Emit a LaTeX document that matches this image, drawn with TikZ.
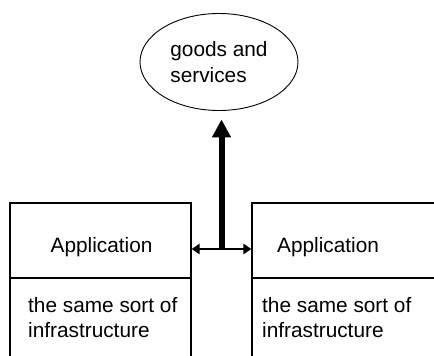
\documentclass[tikz,border=0pt]{standalone}
\usepackage{fontspec}
\setmainfont{Liberation Sans}
\usetikzlibrary{arrows.meta,shapes.geometric,calc}
\begin{document}
\begin{tikzpicture}[x=1pt,y=-1pt,
  box/.style={draw,line width=1.1pt,rectangle,inner sep=0pt,minimum width=188pt},
  txt/.style={font=\fontsize{20.8}{25.5}\selectfont,anchor=base west,inner sep=0pt},
  cloud/.style={draw,ellipse,line width=0.9pt,inner sep=0pt,align=left,
    font=\fontsize{20.8}{25.5}\selectfont},
  link/.style={line width=2pt,{Triangle[length=8pt,width=10pt]}-{Triangle[length=8pt,width=10pt]}},
  output/.style={line width=6pt,-{Triangle[length=18pt,width=18pt]}}]
  \useasboundingbox (0,0) rectangle (434,356);

  % left application stack
  \node[box,minimum width=181pt,minimum height=75pt] (appL) at (100.5,240.5) {};
  \node[box,minimum width=181pt,minimum height=92pt] (infL) at (100.5,324) {};
  % right application stack (runs past the right edge)
  \node[box,minimum height=75pt] (appR) at (346,240.5) {};
  \node[box,minimum height=92pt] (infR) at (346,324) {};

  % texts
  \node[txt] (tAL) at (50.5,252) {Application};
  \node[txt] (tAR) at (277,252) {Application};
  \node[txt] (tIL1) at (28,312) {the same sort of};
  \node[txt] (tIL2) at (28,337.5) {infrastructure};
  \node[txt] (tIR1) at (262,312) {the same sort of};
  \node[txt] (tIR2) at (262,337.5) {infrastructure};

  % goods and services
  \node[cloud,minimum width=158pt,minimum height=97pt] (goods) at (219,62) {goods and\\services};

  % connectors
  \draw[link] ([yshift=-8.5pt]appL.east) -- ([yshift=-8.5pt]appR.west);
  \coordinate (hub) at ($([yshift=-8.5pt]appL.east)!0.5!([yshift=-8.5pt]appR.west)$);
  \draw[output,shorten >=8.5pt] ([yshift=1pt]hub) -- (hub |- goods.south);
\end{tikzpicture}
\end{document}
